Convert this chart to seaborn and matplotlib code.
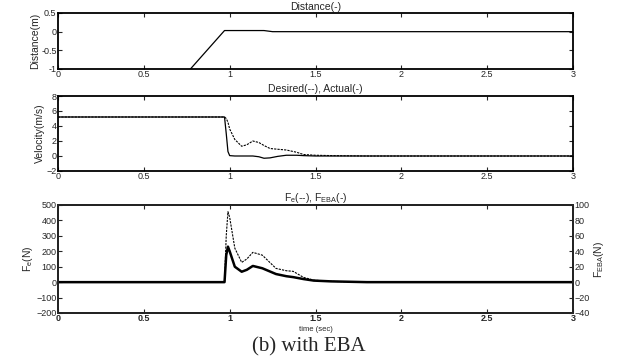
import numpy as np
import pandas as pd
import seaborn as sns
import matplotlib.pyplot as plt

# === Data ===
t_dist = [0.0, 0.97, 1.2, 1.25, 3.0]
distance = [-5.0, 0.03, 0.03, 0.0, 0.0]

t_vel = [0.0, 0.97, 0.98, 0.99, 1.0, 1.03, 1.07, 1.1, 1.135, 1.17, 1.2, 1.235, 1.28, 1.33, 1.39, 1.43, 1.5, 1.6, 1.8, 3.0]
v_desired = [5.2, 5.2, 5.0, 4.5, 3.6, 2.2, 1.3, 1.5, 2.0, 1.8, 1.4, 1.0, 0.9, 0.8, 0.5, 0.2, 0.1, 0.05, 0.0, 0.0]
v_actual = [5.2, 5.2, 3.0, 0.6, 0.05, 0.0, 0.0, 0.0, 0.0, -0.1, -0.3, -0.25, -0.05, 0.1, 0.1, 0.05, 0.0, 0.0, 0.0, 0.0]

t_force = [0.0, 0.97, 0.98, 0.99, 1.0, 1.03, 1.07, 1.1, 1.135, 1.19, 1.27, 1.33, 1.37, 1.43, 1.49, 1.59, 1.8, 3.0]
f_e = [0, 0, 300, 456, 420, 220, 128, 150, 193, 175, 89, 74, 70, 31, 13, 5, 0, 0]
f_eba = [0, 0, 35, 46, 40, 20, 13.5, 16, 21, 18, 10.5, 7.7, 6.5, 4, 2, 1, 0, 0]

sns.set_style("ticks")
plt.rcParams['font.family'] = ['Liberation Sans', 'DejaVu Sans']
plt.rcParams['xtick.direction'] = 'in'
plt.rcParams['ytick.direction'] = 'in'
plt.rcParams['axes.linewidth'] = 1.3

fig = plt.figure(figsize=(6.17, 3.62), dpi=100)
L, W = 58 / 617, 515 / 617
ax1 = fig.add_axes([L, 1 - 69 / 362, W, 56 / 362])
ax2 = fig.add_axes([L, 1 - 171 / 362, W, 75 / 362])
ax3 = fig.add_axes([L, 1 - 313 / 362, W, 108 / 362])

fs = 6.5


def style(ax):
    ax.set_xlim(0, 3)
    ax.set_xticks([0, 0.5, 1, 1.5, 2, 2.5, 3])
    ax.set_xticklabels(['0', '0.5', '1', '1.5', '2', '2.5', '3'])
    ax.tick_params(labelsize=fs, length=3, width=0.8, pad=1, top=True, right=True)
    ax.set_xlabel('')
    for s in ax.spines.values():
        s.set_color('black')


# === Distance ===
d1 = pd.DataFrame({'t': t_dist, 'd': distance})
sns.lineplot(data=d1, x='t', y='d', ax=ax1, color='black', lw=0.9)
style(ax1)
ax1.set_ylim(-1, 0.5)
ax1.set_yticks([-1, -0.5, 0, 0.5])
ax1.set_yticklabels(['-1', '-0.5', '0', '0.5'])
ax1.set_ylabel('Distance(m)', fontsize=7.5, labelpad=1)
ax1.set_title('Distance(-)', fontsize=7.5, pad=2)

# === Velocity ===
d2 = pd.DataFrame({'t': t_vel, 'des': v_desired, 'act': v_actual})
sns.lineplot(data=d2, x='t', y='des', ax=ax2, color='black', lw=0.8, linestyle=(0, (2, 1)))
sns.lineplot(data=d2, x='t', y='act', ax=ax2, color='black', lw=0.9)
style(ax2)
ax2.set_ylim(-2, 8)
ax2.set_yticks([-2, 0, 2, 4, 6, 8])
ax2.set_ylabel('Velocity(m/s)', fontsize=7.5, labelpad=1)
ax2.set_title('Desired(--), Actual(-)', fontsize=7.5, pad=3)

# === Forces ===
d3 = pd.DataFrame({'t': t_force, 'fe': f_e, 'feba': f_eba})
sns.lineplot(data=d3, x='t', y='fe', ax=ax3, color='black', lw=0.8, linestyle=(0, (2, 1)))
style(ax3)
ax3.tick_params(right=False)
ax3.set_ylim(-200, 500)
ax3.set_yticks(range(-200, 501, 100))
ax3.set_ylabel('F$_\\mathregular{e}$(N)', fontsize=7.5, labelpad=1)
ax3.set_title('F$_\\mathregular{e}$(--), F$_\\mathregular{EBA}$(-)', fontsize=7.5, pad=3)
ax3.set_xlabel('time (sec)', fontsize=5.5, labelpad=2)
for lab in ax3.get_xticklabels():
    lab.set_fontweight('bold')

ax3r = ax3.twinx()
sns.lineplot(data=d3, x='t', y='feba', ax=ax3r, color='black', lw=1.8)
ax3r.set_ylim(-40, 100)
ax3r.set_yticks(range(-40, 101, 20))
ax3r.tick_params(labelsize=fs, length=3, width=0.8, pad=1, direction='in')
ax3r.set_ylabel('F$_\\mathregular{EBA}$(N)', fontsize=7.5, labelpad=2)
ax3r.set_xlim(0, 3)

fig.text(0.5, 1 - 347 / 362, '(b) with EBA', ha='center', va='center',
         fontsize=15, family=['Liberation Serif', 'DejaVu Serif'])

fig.savefig('out.png', dpi=100)
